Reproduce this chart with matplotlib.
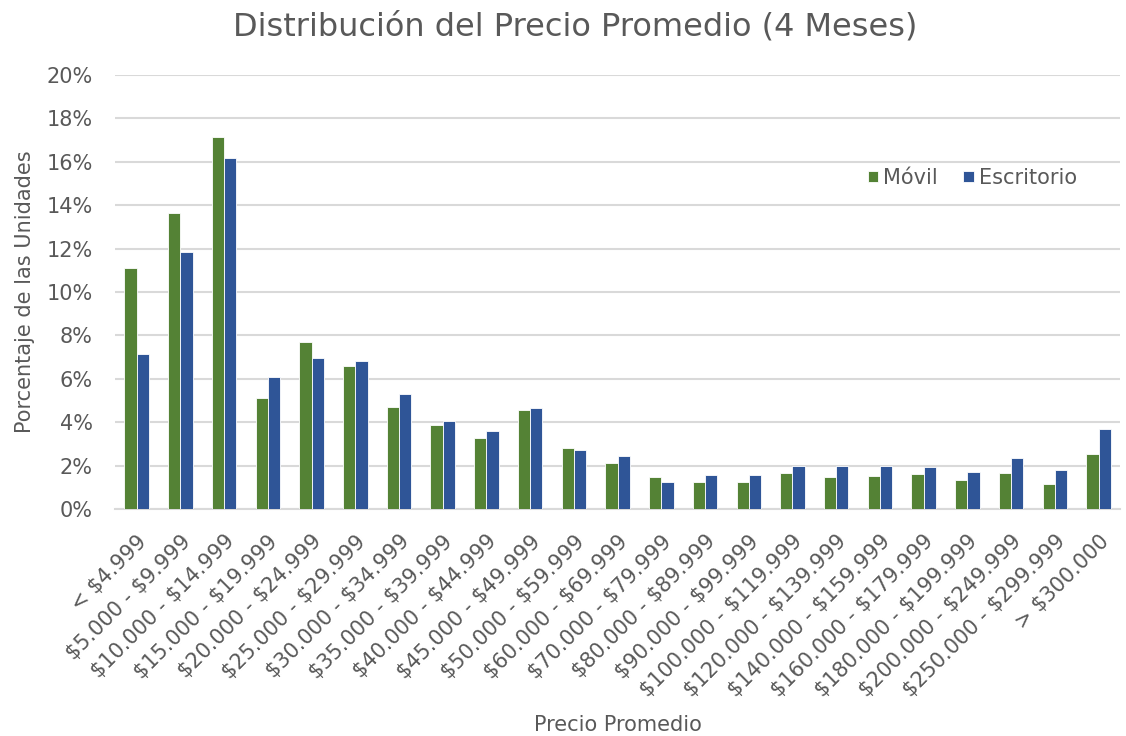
import matplotlib
matplotlib.use("Agg")
import matplotlib.pyplot as plt
import numpy as np
from matplotlib.ticker import PercentFormatter

# price ranges (x categories)
categories = [
    "< $4.999", "$5.000 - $9.999", "$10.000 - $14.999", "$15.000 - $19.999",
    "$20.000 - $24.999", "$25.000 - $29.999", "$30.000 - $34.999",
    "$35.000 - $39.999", "$40.000 - $44.999", "$45.000 - $49.999",
    "$50.000 - $59.999", "$60.000 - $69.999", "$70.000 - $79.999",
    "$80.000 - $89.999", "$90.000 - $99.999", "$100.000 - $119.999",
    "$120.000 - $139.999", "$140.000 - $159.999", "$160.000 - $179.999",
    "$180.000 - $199.999", "$200.000 - $249.999", "$250.000 - $299.999",
    "> $300.000",
]

# percent of units
movil = [11.1, 13.65, 17.15, 5.1, 7.7, 6.6, 4.7, 3.87, 3.27, 4.56,
         2.8, 2.13, 1.47, 1.23, 1.23, 1.67, 1.49, 1.5, 1.62, 1.36,
         1.65, 1.16, 2.55]
escritorio = [7.14, 11.85, 16.18, 6.08, 6.96, 6.8, 5.3, 4.06, 3.6, 4.65,
              2.7, 2.46, 1.24, 1.55, 1.57, 1.99, 1.97, 1.99, 1.92, 1.72,
              2.36, 1.81, 3.67]

green = "#548235"
blue = "#2F5597"
text_col = "#595959"
grid_col = "#D9D9D9"
fs = 15

plt.rcParams["font.family"] = "DejaVu Sans"

fig = plt.figure(figsize=(11.26, 7.36), dpi=100)
ax = fig.add_axes([0.102, 0.3084, 0.893, 0.5897])

x = np.arange(len(categories))
w = 0.28
ax.bar(x - w / 2, movil, width=w, color=green, edgecolor="white", linewidth=0.6, label="Móvil", zorder=3)
ax.bar(x + w / 2, escritorio, width=w, color=blue, edgecolor="white", linewidth=0.6, label="Escritorio", zorder=3)

ax.set_xlim(-0.5, len(categories) - 0.5)
ax.set_ylim(0, 20)
ax.set_yticks(np.arange(0, 21, 2))
ax.yaxis.set_major_formatter(PercentFormatter(decimals=0))
ax.grid(axis="y", color=grid_col, linewidth=1.5, zorder=0)
for s in ["top", "right", "left"]:
    ax.spines[s].set_visible(False)
ax.spines["bottom"].set_color(grid_col)
ax.spines["bottom"].set_linewidth(1.5)
ax.tick_params(axis="both", length=0, colors=text_col, labelsize=fs)
ax.tick_params(axis="y", pad=16)
ax.tick_params(axis="x", pad=16)

ax.set_xticks(x)
ax.set_xticklabels([c.replace("$", r"\$") for c in categories],
                   rotation=45, ha="right", rotation_mode="anchor")

ax.set_ylabel("Porcentaje de las Unidades", fontsize=fs, color=text_col, labelpad=8)
ax.set_xlabel("Precio Promedio", fontsize=fs, color=text_col, labelpad=10)
fig.suptitle("Distribución del Precio Promedio (4 Meses)", fontsize=23, color=text_col,
             x=0.511, y=0.985)

leg = ax.legend(loc="center right", bbox_to_anchor=(0.965, 0.763), ncol=2, frameon=False,
                fontsize=fs, handlelength=0.5, handleheight=0.5, columnspacing=1.2,
                handletextpad=0.25, borderaxespad=0)
for t in leg.get_texts():
    t.set_color(text_col)

fig.savefig("out.png", dpi=100)
